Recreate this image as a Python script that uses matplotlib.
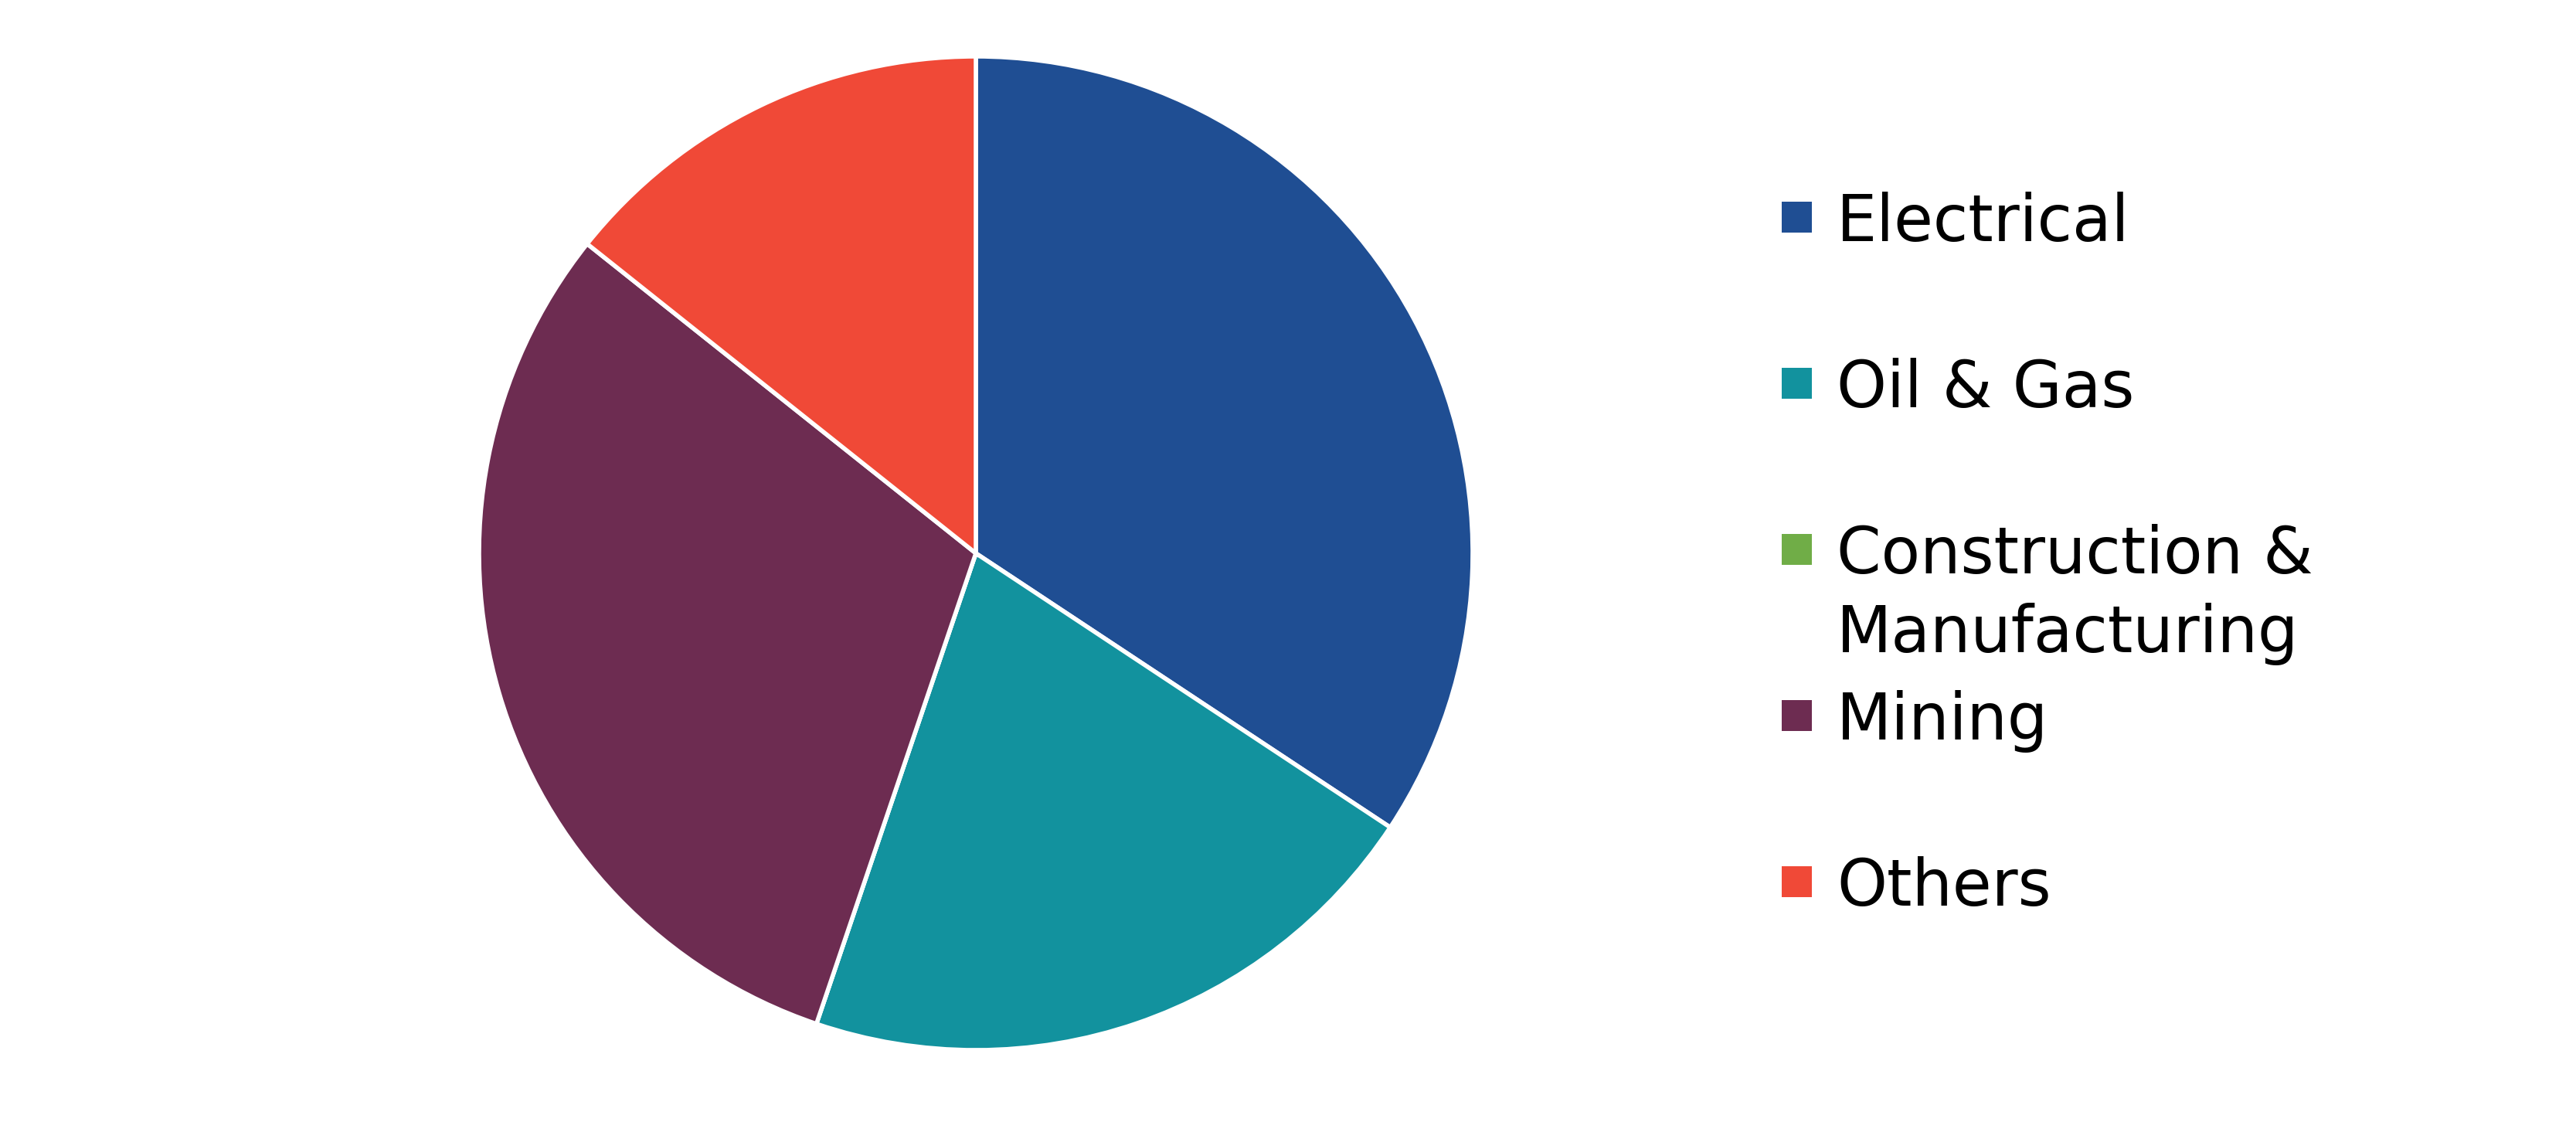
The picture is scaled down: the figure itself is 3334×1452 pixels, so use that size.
import matplotlib.pyplot as plt
from matplotlib.patches import Rectangle

# datos del grafico
categorias = ['Electrical', 'Oil & Gas', 'Construction &\nManufacturing', 'Mining', 'Others']
valores = [34.3, 20.9, 0.0, 30.5, 14.3]
colores = ['#1F4E93', '#12929E', '#70AD47', '#6D2C51', '#F04937']

W, H = 3334, 1452
fig = plt.figure(figsize=(W / 100, H / 100), dpi=100)

# pastel
cx, cy, r = 1263, 716, 643
ax = fig.add_axes([(cx - r) / W, (H - cy - r) / H, 2 * r / W, 2 * r / H])
ax.pie(valores, colors=colores, startangle=90, counterclock=False, radius=1,
       wedgeprops=dict(edgecolor='white', linewidth=4))
ax.set_xlim(-1, 1)
ax.set_ylim(-1, 1)
ax.set_aspect('equal')
ax.axis('off')

# leyenda manual (posiciones en pixeles)
primera_base = 312
paso = 215
interlinea = 102
for i, (nombre, color) in enumerate(zip(categorias, colores)):
    by = primera_base + i * paso
    for j, linea in enumerate(nombre.split('\n')):
        fig.text(2377 / W, 1 - (by + j * interlinea) / H, linea, fontsize=59.5,
                 family='DejaVu Sans', va='baseline', ha='left')
    sq_top = by - 51
    fig.patches.append(Rectangle((2306 / W, 1 - (sq_top + 40) / H), 39 / W, 40 / H,
                                 transform=fig.transFigure, facecolor=color,
                                 edgecolor='none'))

fig.savefig('out.png', dpi=100)
